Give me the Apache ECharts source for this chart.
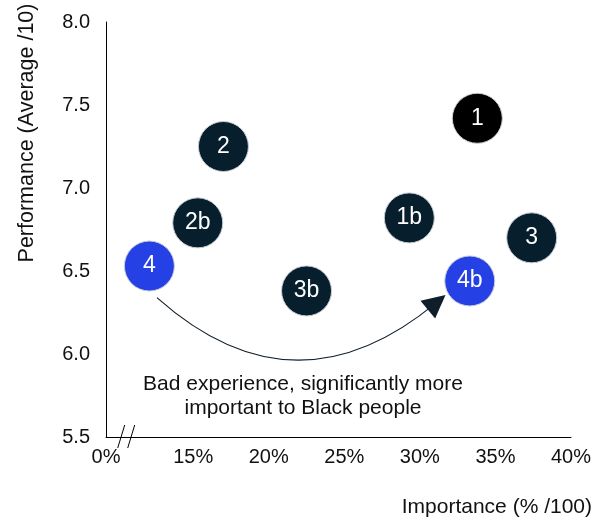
<!DOCTYPE html>
<html>
<head>
<meta charset="utf-8">
<script src="https://cdn.jsdelivr.net/npm/echarts@6/dist/echarts.min.js"></script>
<style>
  html, body { margin: 0; padding: 0; background: #fff; }
  #chart { width: 597px; height: 520px; }
</style>
</head>
<body>
<div id="chart"></div>
<script>
// Journey stages: importance (%) vs performance (average /10)
const stageIds    = ['1', '1b', '2', '2b', '3', '3b', '4', '4b'];
const importance  = [33.8, 29.3, 17.0, 15.3, 37.4, 22.5, 12.1, 33.3];
const performance = [7.42, 6.82, 7.25, 6.79, 6.70, 6.38, 6.53, 6.44];
const stageGroup  = ['lead', 'base', 'base', 'base', 'base', 'base', 'focus', 'focus'];

// Broken x axis: the first tick stands in for 0%
const xTickValues = [9.23, 15, 20, 25, 30, 35, 40];
const xTickLabels = ['0%', '15%', '20%', '25%', '30%', '35%', '40%'];

// Shift highlighted by the arrow (from stage 4 towards stage 4b)
const arrowFrom = [12.6, 6.34];
const arrowTo   = [31.11, 6.311];
const noteLines = ['Bad experience, significantly more', 'important to Black people'];

const FONT = '"Liberation Sans", Arial, sans-serif';
const groupColor = { lead: '#000000', base: '#071e2d', focus: '#2541e6' };

const chart = echarts.init(document.getElementById('chart'), null, { renderer: 'canvas' });

const points = stageIds.map((id, i) => ({
  name: id,
  value: [importance[i], performance[i]],
  itemStyle: { color: groupColor[stageGroup[i]] }
}));

chart.setOption({
  animation: false,
  backgroundColor: '#ffffff',
  textStyle: { fontFamily: FONT },
  grid: { left: 106, right: 26, top: 22, bottom: 83, containLabel: false },
  xAxis: {
    type: 'value',
    min: xTickValues[0],
    max: 40,
    axisLine: { lineStyle: { color: '#000', width: 1 } },
    axisTick: { show: false },
    splitLine: { show: false },
    axisLabel: {
      customValues: xTickValues,
      formatter: v => xTickLabels[xTickValues.indexOf(v)] ?? '',
      color: '#111',
      fontSize: 20,
      fontFamily: FONT,
      margin: 10
    }
  },
  yAxis: {
    type: 'value',
    min: 5.5,
    max: 8.0,
    interval: 0.5,
    axisLine: { show: true, lineStyle: { color: '#000', width: 1 } },
    axisTick: { show: false },
    splitLine: { show: false },
    axisLabel: {
      formatter: v => v.toFixed(1),
      color: '#111',
      fontSize: 20,
      fontFamily: FONT,
      margin: 16
    }
  },
  series: [
    {
      type: 'lines',
      coordinateSystem: 'cartesian2d',
      z: 1,
      symbol: ['none', 'path://M8 0 L16 19 L0 19 Z'],
      symbolSize: 23,
      itemStyle: { color: '#000' },
      lineStyle: { color: '#0f1e2b', width: 1.1, curveness: -0.43, opacity: 1 },
      data: [{ coords: [arrowFrom, arrowTo] }]
    },
    {
      type: 'scatter',
      z: 3,
      symbol: 'circle',
      symbolSize: 50,
      data: points,
      itemStyle: { borderColor: '#c9ced6', borderWidth: 1, opacity: 1 },
      label: {
        show: true,
        position: 'inside',
        formatter: p => p.name,
        color: '#ffffff',
        fontSize: 23,
        fontFamily: FONT
      }
    }
  ]
});

// Axis-break marks, annotation and axis titles
const axisBreak = chart.convertToPixel({ gridIndex: 0 }, [10.6, 5.5]);
chart.setOption({
  graphic: [
    {
      type: 'line', z: 10,
      shape: { x1: axisBreak[0] - 9, y1: axisBreak[1] + 11, x2: axisBreak[0] - 2, y2: axisBreak[1] - 12 },
      style: { stroke: '#000', lineWidth: 1 }
    },
    {
      type: 'line', z: 10,
      shape: { x1: axisBreak[0] + 1, y1: axisBreak[1] + 11, x2: axisBreak[0] + 8, y2: axisBreak[1] - 12 },
      style: { stroke: '#000', lineWidth: 1 }
    },
    {
      type: 'text', z: 10,
      x: 303, y: 396,
      style: {
        text: noteLines.join('\n'),
        fontSize: 21, fontFamily: FONT, fill: '#111',
        align: 'center', verticalAlign: 'middle', lineHeight: 24
      }
    },
    {
      type: 'text', z: 10,
      x: 27, y: 133, rotation: Math.PI / 2,
      style: {
        text: 'Performance (Average /10)',
        fontSize: 21.5, fontFamily: FONT, fill: '#111',
        align: 'center', verticalAlign: 'middle'
      }
    },
    {
      type: 'text', z: 10,
      x: 592, y: 507,
      style: {
        text: 'Importance (% /100)',
        fontSize: 21, fontFamily: FONT, fill: '#111',
        align: 'right', verticalAlign: 'middle'
      }
    }
  ]
});
</script>
</body>
</html>
